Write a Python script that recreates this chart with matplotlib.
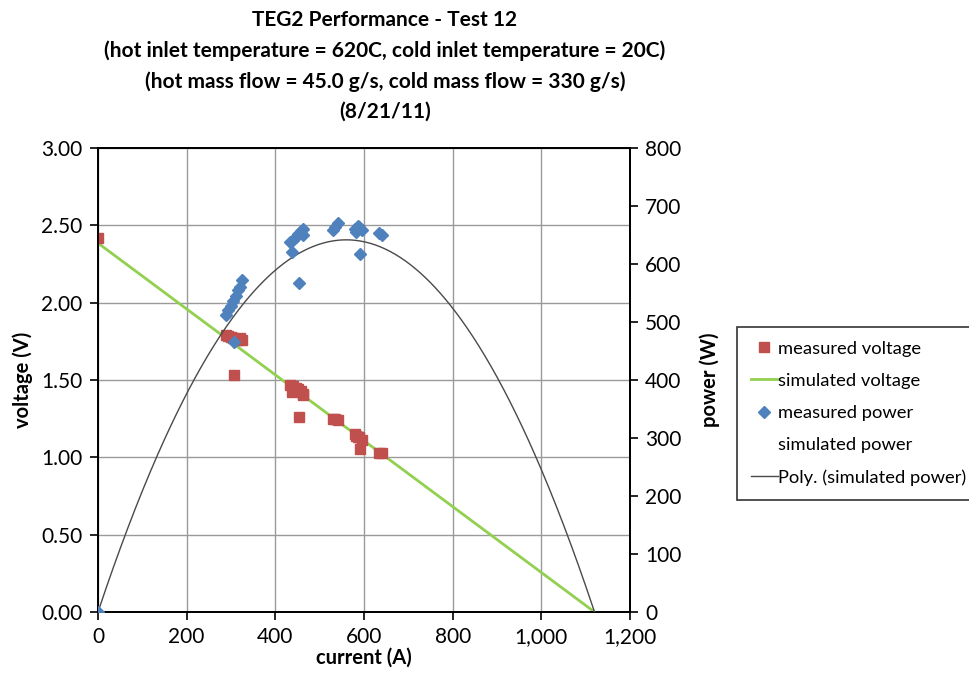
import numpy as np
import matplotlib
matplotlib.use("Agg")
import matplotlib.pyplot as plt
from matplotlib.lines import Line2D
from matplotlib.ticker import FuncFormatter, MultipleLocator

plt.rcParams['font.family'] = ['Lato', 'DejaVu Sans']

# measured data
meas_current = [0, 288, 294, 299, 305, 311, 316, 320, 325, 307,
                434, 437, 440, 446, 452, 458, 462, 463, 453,
                531, 534, 542,
                580, 583, 587, 589, 595, 592,
                634, 640]
meas_voltage = [2.42, 1.79, 1.785, 1.78, 1.77, 1.765, 1.76, 1.77, 1.76, 1.535,
                1.47, 1.42, 1.46, 1.45, 1.44, 1.43, 1.41, 1.40, 1.26,
                1.245, 1.245, 1.24,
                1.15, 1.14, 1.13, 1.13, 1.11, 1.055,
                1.03, 1.025]
meas_power = [0, 512, 521, 528, 536, 545, 555, 560, 572, 466,
              638, 621, 642, 647, 652, 657, 661, 650, 567,
              658, 664, 671,
              661, 656, 666, 664, 659, 618,
              653, 650]

# simulated data
sim_current = [0, 1120]
sim_voltage = [2.385, 0.0]
simp_current = [0, 280, 560, 840, 1120]
simp_power = [0, 481, 642, 481, 0]

title_lines = ["TEG2 Performance - Test 12",
               "(hot inlet temperature = 620C, cold inlet temperature = 20C)",
               "(hot mass flow = 45.0 g/s, cold mass flow = 330 g/s)",
               "(8/21/11)"]

red = '#C0504D'
green = '#92D050'
blue = '#4F81BD'
poly_c = '#4a4a4a'

W, H = 970, 683
fig = plt.figure(figsize=(W / 100, H / 100), dpi=100)
ax = fig.add_axes([98 / W, 1 - 612 / H, 532 / W, 464 / H])
ax2 = ax.twinx()

ax.set_xlim(0, 1200)
ax.set_ylim(0, 3.0)
ax2.set_ylim(0, 800)

ax.xaxis.set_major_locator(MultipleLocator(200))
ax.yaxis.set_major_locator(MultipleLocator(0.5))
ax2.yaxis.set_major_locator(MultipleLocator(100))
ax.xaxis.set_major_formatter(FuncFormatter(lambda v, p: f"{int(v):,}"))
ax.yaxis.set_major_formatter(FuncFormatter(lambda v, p: f"{v:.2f}"))
ax2.yaxis.set_major_formatter(FuncFormatter(lambda v, p: f"{int(v)}"))

ax.grid(True, color='#9a9a9a', linewidth=1.0)
ax.set_axisbelow(True)

for a in (ax, ax2):
    for s in a.spines.values():
        s.set_color('black')
        s.set_linewidth(1.3)
    a.tick_params(labelsize=15, length=6, width=1.2, color='black',
                  direction='out', pad=5)

ax.plot(sim_current, sim_voltage, color=green, linewidth=2, zorder=3)
ax.plot(meas_current, meas_voltage, linestyle='none', marker='s', markersize=7.5,
        color=red, zorder=4)

ax2.plot(simp_current, simp_power, linestyle='none', marker='none')
coef = np.polyfit(simp_current, simp_power, 2)
xs = np.linspace(0, 1120, 400)
ax2.plot(xs, np.polyval(coef, xs), color=poly_c, linewidth=1.0, zorder=3)
ax2.plot(meas_current, meas_power, linestyle='none', marker='D', markersize=6,
         color=blue, zorder=5)

ax.set_xlabel('current (A)', fontsize=14.5, fontweight='bold', labelpad=0)
ax.set_ylabel('voltage (V)', fontsize=14.5, fontweight='bold', labelpad=6)
ax2.set_ylabel('power (W)', fontsize=14.5, fontweight='bold', labelpad=13)

for txt, yp in zip(title_lines, [20, 51, 82, 112]):
    fig.text(385 / W, 1 - yp / H, txt, ha='center', va='center', fontsize=15,
             fontweight='bold')

handles = [
    Line2D([], [], linestyle='none', marker='s', markersize=7.5, color=red),
    Line2D([], [], color=green, linewidth=2),
    Line2D([], [], linestyle='none', marker='D', markersize=6, color=blue),
    Line2D([], [], linestyle='none', marker='none'),
    Line2D([], [], color=poly_c, linewidth=1.0),
]
labels = ['measured voltage', 'simulated voltage', 'measured power',
          'simulated power', 'Poly. (simulated power)']
leg = fig.legend(handles, labels, loc='upper left', bbox_to_anchor=(737 / W, 1 - 327 / H),
                 borderaxespad=0, frameon=True, fancybox=False, edgecolor='black',
                 fontsize=13.2, handlelength=1.5, handletextpad=0.0,
                 labelspacing=0.88, borderpad=0.75)
leg.get_frame().set_linewidth(1.2)

fig.savefig('out.png', dpi=100)
